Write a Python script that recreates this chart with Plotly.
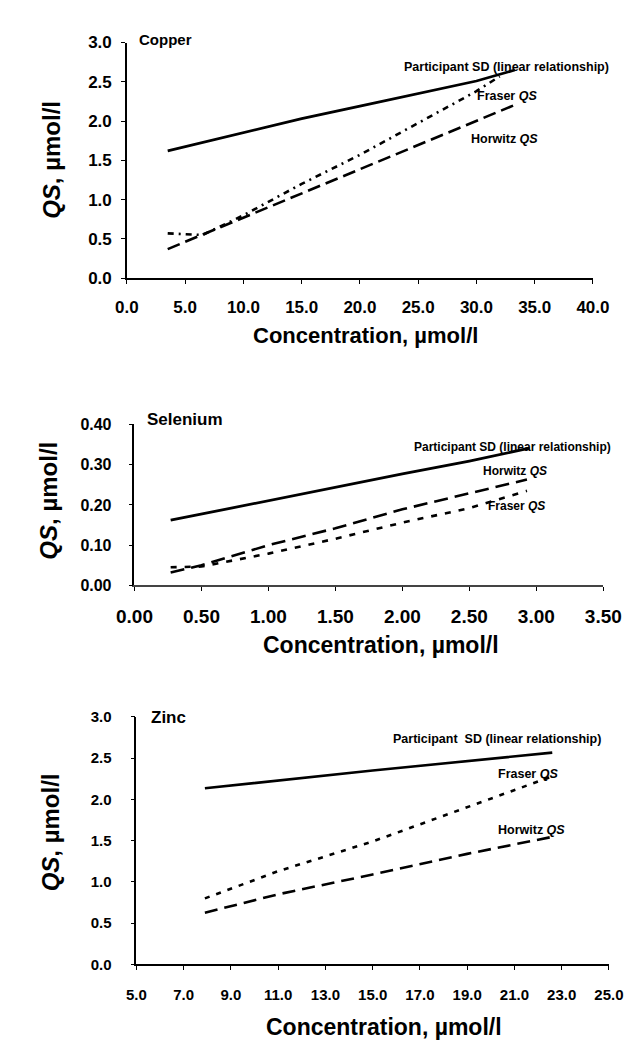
import plotly.graph_objects as go

# ---------------- data ----------------
# Copper
cu_sd_x = [3.5, 10.0, 15.0, 20.0, 25.0, 30.0, 33.3]
cu_sd_y = [1.62, 1.85, 2.03, 2.19, 2.35, 2.51, 2.65]
cu_fr_x = [3.5, 6.5, 10.0, 15.0, 20.0, 25.0, 30.0, 32.0]
cu_fr_y = [0.57, 0.55, 0.80, 1.20, 1.57, 1.98, 2.38, 2.57]
cu_hw_x = [3.5, 10.0, 15.0, 20.0, 25.0, 30.0, 33.2]
cu_hw_y = [0.37, 0.77, 1.08, 1.39, 1.70, 2.01, 2.20]

# Selenium
se_sd_x = [0.27, 1.0, 1.5, 2.0, 2.5, 2.95]
se_sd_y = [0.162, 0.211, 0.243, 0.277, 0.309, 0.341]
se_hw_x = [0.27, 0.5, 1.0, 1.5, 2.0, 2.5, 2.93]
se_hw_y = [0.032, 0.050, 0.100, 0.142, 0.189, 0.229, 0.263]
se_fr_x = [0.27, 0.5, 1.0, 1.5, 2.0, 2.5, 2.93]
se_fr_y = [0.045, 0.047, 0.079, 0.116, 0.156, 0.192, 0.235]

# Zinc
zn_sd_x = [7.9, 15.0, 22.6]
zn_sd_y = [2.135, 2.35, 2.568]
zn_fr_x = [7.9, 11.0, 15.0, 19.0, 22.6]
zn_fr_y = [0.80, 1.13, 1.49, 1.91, 2.28]
zn_hw_x = [7.9, 11.0, 15.0, 19.0, 22.6]
zn_hw_y = [0.626, 0.85, 1.09, 1.34, 1.546]

cu_xticks = [0, 5, 10, 15, 20, 25, 30, 35, 40]
cu_yticks = [0.0, 0.5, 1.0, 1.5, 2.0, 2.5, 3.0]
se_xticks = [0.0, 0.5, 1.0, 1.5, 2.0, 2.5, 3.0, 3.5]
se_yticks = [0.0, 0.1, 0.2, 0.3, 0.4]
zn_xticks = [5, 7, 9, 11, 13, 15, 17, 19, 21, 23, 25]
zn_yticks = [0.0, 0.5, 1.0, 1.5, 2.0, 2.5, 3.0]

W, H = 635, 1040
FONT = "Liberation Sans, Arial, sans-serif"
NARROW = "Liberation Sans Narrow, Arial Narrow, Liberation Sans, Arial, sans-serif"


def px_x(p):
    return p / W


def px_y(p):
    return 1 - p / H


fig = go.Figure()

def add_line(x, y, ax, dash, width=2.6):
    fig.add_trace(go.Scatter(
        x=x, y=y, mode="lines", xaxis=ax[0], yaxis=ax[1],
        line=dict(color="black", width=width, dash=dash),
        showlegend=False, hoverinfo="skip"))

add_line(cu_sd_x, cu_sd_y, ("x", "y"), "solid", 2.8)
add_line(cu_fr_x, cu_fr_y, ("x", "y"), "6px,5px,2px,5px")
add_line(cu_hw_x, cu_hw_y, ("x", "y"), "13px,6px")

add_line(se_sd_x, se_sd_y, ("x2", "y2"), "solid", 2.8)
add_line(se_hw_x, se_hw_y, ("x2", "y2"), "14px,7px")
add_line(se_fr_x, se_fr_y, ("x2", "y2"), "6px,8px")

add_line(zn_sd_x, zn_sd_y, ("x3", "y3"), "solid", 2.6)
add_line(zn_fr_x, zn_fr_y, ("x3", "y3"), "5px,7px")
add_line(zn_hw_x, zn_hw_y, ("x3", "y3"), "13px,7px")


def axis(domain, rng, tickvals, fmt, anchor, fsize, family=FONT, standoff=4, lw=1.5, lc="black"):
    return dict(
        domain=domain, range=rng, tickvals=tickvals,
        ticktext=[fmt.format(v) for v in tickvals],
        anchor=anchor, showline=True, linecolor=lc, linewidth=lw,
        ticks="outside", ticklen=4, tickwidth=1.2, tickcolor="black",
        showgrid=False, zeroline=False, fixedrange=True,
        ticklabelstandoff=standoff,
        tickfont=dict(family=family, size=fsize, color="black", weight="bold"),
    )


fig.update_layout(
    width=W, height=H,
    margin=dict(l=0, r=0, t=0, b=0),
    paper_bgcolor="white", plot_bgcolor="white",
    xaxis=axis([px_x(107), px_x(601)], [0, 40], cu_xticks, "{:.1f}", "y", 17, standoff=9),
    yaxis=axis([px_y(266), px_y(26)], [0, 3], cu_yticks, "{:.1f}", "x", 17, standoff=6),
    xaxis2=axis([px_x(115), px_x(612)], [0, 3.5], se_xticks, "{:.2f}", "y2", 19, family=NARROW, standoff=9, lw=2, lc="#444"),
    yaxis2=axis([px_y(579), px_y(415)], [0, 0.4], se_yticks, "{:.2f}", "x2", 16, family=NARROW, standoff=14),
    xaxis3=axis([px_x(117), px_x(618)], [5, 25], zn_xticks, "{:.1f}", "y3", 15, standoff=12),
    yaxis3=axis([px_y(965), px_y(713)], [0, 3], zn_yticks, "{:.1f}", "x3", 15, standoff=16),
)

ann = []

def label(text, x, y, xr, yr, size=12.5, xanchor="center"):
    ann.append(dict(text=text, x=x, y=y, xref=xr, yref=yr, showarrow=False,
                    xanchor=xanchor, yanchor="middle",
                    font=dict(family=FONT, size=size, color="black")))

# panel labels (paper coordinates)
label("<b>Copper</b>", px_x(118), px_y(23), "paper", "paper", 15, "left")
label("<b>Selenium</b>", px_x(126), px_y(410), "paper", "paper", 17, "left")
label("<b>Zinc</b>", px_x(130), px_y(714), "paper", "paper", 17, "left")

# series labels
label("<b>Participant SD (linear relationship)</b>", 32.55, 2.69, "x", "y")
label("<b>Fraser <i>QS</i></b>", 32.6, 2.32, "x", "y")
label("<b>Horwitz <i>QS</i></b>", 32.4, 1.77, "x", "y")

label("<b>Participant SD (linear relationship)</b>", 2.82, 0.344, "x2", "y2", 12)
label("<b>Horwitz <i>QS</i></b>", 2.84, 0.285, "x2", "y2", 12)
label("<b>Fraser <i>QS</i></b>", 2.85, 0.197, "x2", "y2", 12)

label("<b>Participant  SD (linear relationship)</b>", 20.27, 2.735, "x3", "y3", 12.5)
label("<b>Fraser <i>QS</i></b>", 21.59, 2.31, "x3", "y3", 12.5)
label("<b>Horwitz <i>QS</i></b>", 21.74, 1.63, "x3", "y3", 12.5)

# axis titles
for cx, cy, sz in [(360, 324, 22), (376, 640, 23), (380, 1029, 23)]:
    ann.append(dict(text="<b>Concentration, µmol/l</b>", x=px_x(cx), y=px_y(cy),
                    xref="paper", yref="paper", showarrow=False,
                    xanchor="center", yanchor="middle",
                    font=dict(family=FONT, size=sz, color="black")))
for cx, cy in [(27, 145), (24, 493), (26, 831)]:
    ann.append(dict(text="<b><i>QS</i>, µmol/l</b>", x=px_x(cx), y=px_y(cy),
                    xref="paper", yref="paper", showarrow=False, textangle=-90,
                    xanchor="center", yanchor="middle",
                    font=dict(family=FONT, size=24, color="black")))

fig.update_layout(annotations=ann)
fig.write_html("out.html")
